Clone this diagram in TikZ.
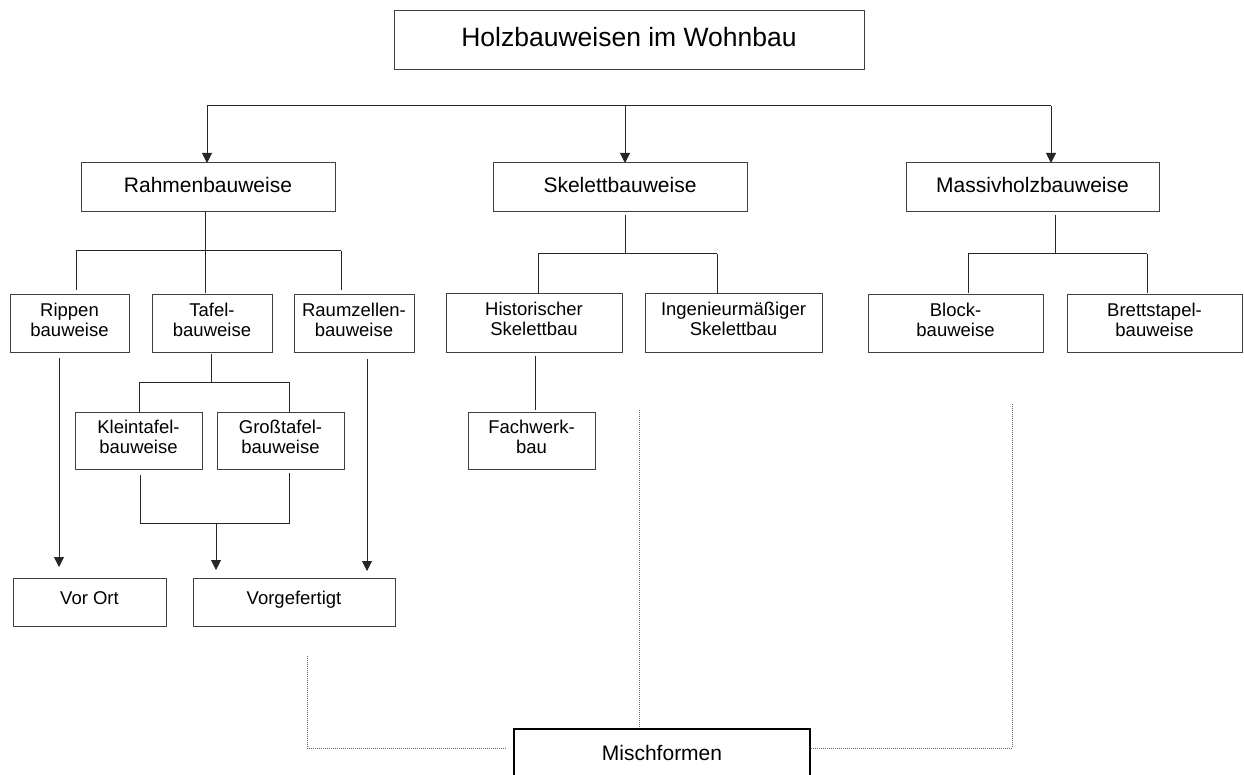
\documentclass[tikz,border=0pt]{standalone}
\usepackage{fontspec}
\setmainfont{Liberation Sans}
\usetikzlibrary{arrows.meta}
\begin{document}
\begin{tikzpicture}[x=1pt,y=-1pt,
  box/.style={draw=black!75, line width=1pt, inner sep=0pt, outer sep=0pt, align=center,
    font=\fontsize{18.5}{20}\selectfont, text depth=8pt},
  onebox/.style={box, text height=14pt, text depth=10pt},
  midbox/.style={box, font=\fontsize{21}{24}\selectfont, text height=16pt, text depth=5.6pt,
    minimum width=254pt, minimum height=49pt},
  link/.style={draw=black!85, line width=1pt},
  arr/.style={link, -{Triangle[width=10pt,length=10pt]}},
  dots/.style={draw=black!60, line width=0.8pt, dash pattern=on 1pt off 1pt},
]
\useasboundingbox (0,0) rectangle (1244,775);
\clip (0,0) rectangle (1244,775);

% boxes
\node[box, font=\fontsize{26.5}{30}\selectfont, text height=20pt, text depth=7.6pt,
  minimum width=470pt, minimum height=59pt] (top) at (629,40.5) {Holzbauweisen im Wohnbau};
\node[midbox] (rahmen) at (208,187.5) {Rahmenbauweise};
\node[midbox] (skelett) at (620,187.5) {Skelettbauweise};
\node[midbox, minimum width=253pt] (massiv) at (1032.5,187.5) {Massivholzbauweise};

\node[box, minimum width=119pt, minimum height=57pt] (rippen) at (69.5,323.5) {Rippen\\bauweise};
\node[box, minimum width=120pt, minimum height=57pt] (tafel) at (212,323.5) {Tafel-\\bauweise};
\node[box, minimum width=120pt, minimum height=57pt] (raum) at (354,323.5) {Raumzellen-\\bauweise};
\node[box, minimum width=176pt, minimum height=58pt] (hist) at (534,323) {Historischer\\Skelettbau};
\node[box, minimum width=177pt, minimum height=58pt] (ing) at (733.5,323) {Ingenieurmäßiger\\Skelettbau};
\node[box, minimum width=175pt, minimum height=57pt] (block) at (955.5,323.5) {Block-\\bauweise};
\node[box, minimum width=175pt, minimum height=57pt] (brett) at (1154.5,323.5) {Brettstapel-\\bauweise};

\node[box, minimum width=127pt, minimum height=57pt] (klein) at (138.5,440.5) {Kleintafel-\\bauweise};
\node[box, minimum width=127pt, minimum height=57pt] (gross) at (280.5,440.5) {Großtafel-\\bauweise};
\node[box, minimum width=127pt, minimum height=57pt] (fach) at (531.5,440.5) {Fachwerk-\\bau};

\node[onebox, minimum width=153pt, minimum height=48pt] (vorort) at (89.5,602) {Vor Ort};
\node[onebox, minimum width=202pt, minimum height=48pt] (vorg) at (294,602) {Vorgefertigt};

\node[box, draw=black, line width=2pt, font=\fontsize{21}{24}\selectfont, text height=16pt, text depth=4pt,
  minimum width=296pt, minimum height=50pt] (misch) at (662,754) {Mischformen};

% top bar with arrows
\coordinate (b1) at (207,106);
\coordinate (b2) at (625,106);
\coordinate (b3) at (1051,106);
\draw[link] (b1) -- (b3);
\draw[arr] (b1) -- (b1 |- rahmen.north);
\draw[arr] (b2) -- (b2 |- skelett.north);
\draw[arr] (b3) -- (b3 |- massiv.north);

% Rahmen group
\coordinate (rj) at (205,251);
\coordinate (rl) at (76,251);
\coordinate (rr) at (341,251);
\draw[link] (rahmen.south -| rj) -- (rj);
\draw[link] (rl) -- (rr);
\draw[link, shorten >=5pt] (rl) -- (rl |- rippen.north);
\draw[link, shorten >=2pt] (rj) -- (rj |- tafel.north);
\draw[link, shorten >=5pt] (rr) -- (rr |- raum.north);

% Tafel group
\coordinate (tj) at (211,382);
\coordinate (tl) at (139,382);
\coordinate (tr) at (289,382);
\draw[link, shorten <=2pt] (tafel.south -| tj) -- (tj);
\draw[link] (tl) -- (tr);
\draw[link] (tl) -- (tl |- klein.north);
\draw[link] (tr) -- (tr |- gross.north);

% Klein/Gross merge to Vorgefertigt
\coordinate (kl) at (140,523);
\coordinate (kr) at (289,523);
\coordinate (kj) at (216,523);
\draw[link, shorten <=6pt, shorten >=4pt] (klein.south -| kl) -- (kl) -- (kr) -- (gross.south -| kr);
\draw[arr, shorten >=8pt] (kj) -- (kj |- vorg.north);

% Rippen -> Vor Ort, Raumzellen -> Vorgefertigt
\coordinate (ax) at (59,0);
\coordinate (rx) at (367,0);
\draw[arr, shorten <=6pt, shorten >=11pt] (rippen.south -| ax) -- (vorort.north -| ax);
\draw[arr, shorten <=7pt, shorten >=7pt] (raum.south -| rx) -- (vorg.north -| rx);

% Skelett group
\coordinate (sj) at (625,254);
\coordinate (sl) at (538,254);
\coordinate (sr) at (717,254);
\draw[link, shorten <=3pt] (skelett.south -| sj) -- (sj);
\draw[link] (sl) -- (sr);
\draw[link] (sl) -- (sl |- hist.north);
\draw[link] (sr) -- (sr |- ing.north);
\coordinate (fx) at (535,0);
\draw[link, shorten <=4pt, shorten >=2pt] (hist.south -| fx) -- (fach.north -| fx);

% Massiv group
\coordinate (mj) at (1055,254);
\coordinate (ml) at (968,254);
\coordinate (mr) at (1147,254);
\draw[link, shorten <=3pt] (massiv.south -| mj) -- (mj);
\draw[link] (ml) -- (mr);
\draw[link, shorten >=2pt] (ml) -- (ml |- block.north);
\draw[link, shorten >=2pt] (mr) -- (mr |- brett.north);

% dotted links to Mischformen
\coordinate (d1) at (307,656);
\coordinate (dc) at (307,748);
\coordinate (d2) at (639,410);
\coordinate (d3) at (1012,404);
\draw[dots, shorten >=7pt] (d1) -- (dc) -- (misch.west |- dc);
\draw[dots, shorten >=2pt] (d2) -- (d2 |- misch.north);
\draw[dots] (d3) -- (d3 |- dc) -- (misch.east |- dc);
\end{tikzpicture}
\end{document}
